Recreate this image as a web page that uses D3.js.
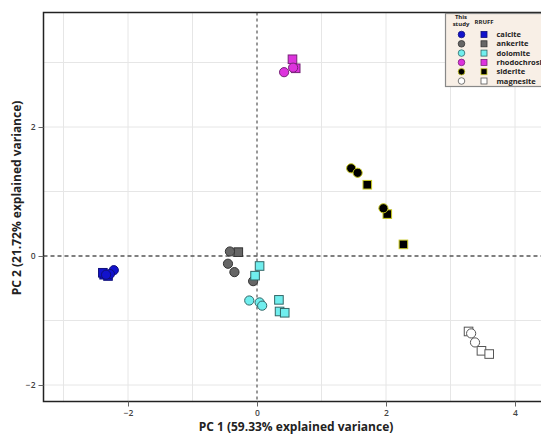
<!DOCTYPE html>
<html><head><meta charset="utf-8">
<script src="https://cdn.jsdelivr.net/npm/d3@7"></script>
<style>body{margin:0;background:#fff}svg{display:block}text{font-family:"Open Sans","Noto Sans",sans-serif}</style>
</head><body><svg id="c" width="541" height="434"></svg>
<script>
const minerals = ["calcite","ankerite","dolomite","rhodochrosite","siderite","magnesite"];
const fills = ["#1212cc","#666666","#70eeee","#dd33dd","#000000","#ffffff"];
const strokes = ["#10107a","#333333","#336666","#772277","#c8c820","#555555"];
// This study (circles)
const studyX = {
  calcite:[-2.22,-2.28,-2.34],
  ankerite:[-0.42,-0.45,-0.35,-0.06],
  dolomite:[-0.12,0.04,0.08],
  rhodochrosite:[0.42,0.56],
  siderite:[1.46,1.56,1.96],
  magnesite:[3.32,3.38]
};
const studyY = {
  calcite:[-0.22,-0.28,-0.29],
  ankerite:[0.07,-0.12,-0.25,-0.39],
  dolomite:[-0.69,-0.72,-0.77],
  rhodochrosite:[2.85,2.92],
  siderite:[1.36,1.29,0.74],
  magnesite:[-1.20,-1.34]
};
// RRUFF (squares)
const rruffX = {
  calcite:[-2.37,-2.31,-2.39],
  ankerite:[-0.29],
  dolomite:[0.04,-0.03,0.34,0.35,0.43],
  rhodochrosite:[0.55,0.60],
  siderite:[1.71,2.02,2.27],
  magnesite:[3.28,3.48,3.60]
};
const rruffY = {
  calcite:[-0.29,-0.31,-0.26],
  ankerite:[0.06],
  dolomite:[-0.155,-0.305,-0.68,-0.86,-0.88],
  rhodochrosite:[3.05,2.91],
  siderite:[1.105,0.65,0.18],
  magnesite:[-1.17,-1.47,-1.52]
};
const xTicks = [-2,0,2,4];
const yTicks = [-2,0,2];
const xGrid = [-3,-2,-1,1,2,3,4];
const yGrid = [-2,-1,1,2,3];

const svg = d3.select("#c");
const L=43.5, R=560, T=12.5, B=401.5;
const x = d3.scaleLinear().domain([0,1]).range([257,321.5]);
const y = d3.scaleLinear().domain([0,1]).range([256,191.5]);

const g = svg.append("g");
// grid
g.selectAll(".vg").data(xGrid).join("line").attr("x1",d=>x(d)).attr("x2",d=>x(d)).attr("y1",T).attr("y2",B).attr("stroke","#e6e6e6").attr("stroke-width",1);
g.selectAll(".hg").data(yGrid).join("line").attr("y1",d=>y(d)).attr("y2",d=>y(d)).attr("x1",L).attr("x2",R).attr("stroke","#e6e6e6").attr("stroke-width",1);
// zero dashed lines
g.append("line").attr("x1",x(0)).attr("x2",x(0)).attr("y1",T).attr("y2",B).attr("stroke","#777").attr("stroke-width",1.5).attr("stroke-dasharray","3,3");
g.append("line").attr("y1",y(0)).attr("y2",y(0)).attr("x1",L).attr("x2",R).attr("stroke","#555").attr("stroke-width",1.3).attr("stroke-dasharray","4,3");
// box
svg.append("rect").attr("x",L).attr("y",T).attr("width",R-L).attr("height",B-T).attr("fill","none").attr("stroke","#222").attr("stroke-width",1.5);

// axes
const fmt = d=> d<0 ? "\u2212"+Math.abs(d) : String(d);
const xa = svg.append("g").attr("transform",`translate(0,${B})`).call(d3.axisBottom(x).tickValues(xTicks).tickFormat(fmt).tickSize(5).tickSizeOuter(0));
const ya = svg.append("g").attr("transform",`translate(${L},0)`).call(d3.axisLeft(y).tickValues(yTicks).tickFormat(fmt).tickSize(5).tickSizeOuter(0));
[xa,ya].forEach(a=>{a.select(".domain").remove();a.selectAll("line").attr("stroke","#666");a.selectAll("text").attr("fill","#444").attr("font-size","8.5px").attr("font-weight","600");});

// points
const r=4.6, s=8.6;
minerals.forEach((m,i)=>{
  const sq = rruffX[m].map((v,j)=>({x:v,y:rruffY[m][j]}));
  const ci = studyX[m].map((v,j)=>({x:v,y:studyY[m][j]}));
  svg.append("g").selectAll("rect").data(sq).join("rect")
    .attr("x",d=>x(d.x)-s/2).attr("y",d=>y(d.y)-s/2).attr("width",s).attr("height",s)
    .attr("fill",fills[i]).attr("stroke",strokes[i]).attr("stroke-width",1);
  svg.append("g").selectAll("circle").data(ci).join("circle")
    .attr("cx",d=>x(d.x)).attr("cy",d=>y(d.y)).attr("r",r)
    .attr("fill",fills[i]).attr("stroke",strokes[i]).attr("stroke-width",1);
});

// legend
const lg = svg.append("g").style("font-family","Lato, 'Open Sans', sans-serif");
lg.append("rect").attr("x",445.5).attr("y",13.5).attr("width",110).attr("height",73).attr("fill","#f8efe6").attr("stroke","#888").attr("stroke-width",1.2);
lg.append("text").attr("x",461).attr("y",18.8).attr("text-anchor","middle").attr("font-size","6px").attr("font-weight","700").attr("fill","#222").text("This");
lg.append("text").attr("x",461).attr("y",25.8).attr("text-anchor","middle").attr("font-size","6px").attr("font-weight","700").attr("fill","#222").text("study");
lg.append("text").attr("x",484).attr("y",23.5).attr("text-anchor","middle").attr("font-size","6px").attr("font-weight","700").attr("fill","#222").text("RRUFF");
minerals.forEach((m,i)=>{
  const yy = 34.5 + i*9.3;
  lg.append("circle").attr("cx",461.5).attr("cy",yy).attr("r",3.3).attr("fill",fills[i]).attr("stroke",strokes[i]).attr("stroke-width",0.8);
  lg.append("rect").attr("x",481).attr("y",yy-3).attr("width",6).attr("height",6).attr("fill",fills[i]).attr("stroke",strokes[i]).attr("stroke-width",0.8);
  lg.append("text").attr("x",496.5).attr("y",yy+2.6).attr("font-size","7.5px").attr("font-weight","700").attr("fill","#222").text(m);
});

// titles
svg.append("text").attr("x",296).attr("y",431).attr("text-anchor","middle").attr("font-size","12px").attr("font-weight","700").attr("fill","#222").text("PC 1 (59.33% explained variance)");
svg.append("text").attr("transform","translate(21,198) rotate(-90)").attr("text-anchor","middle").attr("font-size","12px").attr("font-weight","700").attr("fill","#222").text("PC 2 (21.72% explained variance)");
</script></body></html>
